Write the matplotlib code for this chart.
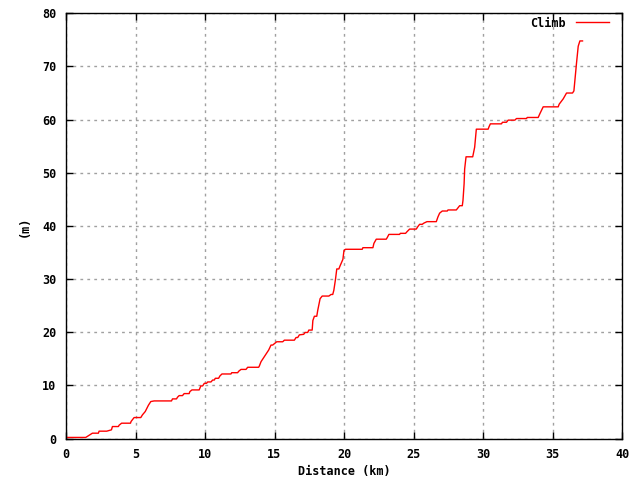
import matplotlib
matplotlib.use("Agg")
import matplotlib.pyplot as plt

distance_km = [0.0, 1.42, 1.9, 2.33, 2.38, 2.93, 3.27, 3.34, 3.77, 3.82, 4.0, 4.64, 4.68,
               4.9, 5.38, 5.5, 5.7, 5.93, 6.1, 6.34, 7.59, 7.66, 7.95, 8.02, 8.14, 8.38,
               8.5, 8.86, 8.91, 9.06, 9.58, 9.7, 9.83, 9.95, 10.11, 10.19, 10.43, 10.55,
               10.67, 10.74, 10.98, 11.07, 11.22, 11.87, 11.92, 12.35, 12.42, 12.59, 12.95,
               13.07, 13.86, 13.91, 14.03, 14.27, 14.58, 14.75, 14.87, 15.16, 15.59, 15.71,
               16.43, 16.55, 16.67, 16.79, 17.1, 17.2, 17.39, 17.47, 17.71, 17.76, 17.87,
               18.04, 18.11, 18.28, 18.43, 18.91, 19.07, 19.19, 19.27, 19.39, 19.48, 19.63,
               19.72, 19.92, 20.0, 20.11, 21.31, 21.36, 22.08, 22.15, 22.32, 23.04, 23.11,
               23.23, 24.0, 24.05, 24.43, 24.53, 24.72, 25.2, 25.32, 25.44, 25.63, 25.73,
               25.97, 26.64, 26.76, 26.88, 27.07, 27.43, 27.48, 28.08, 28.2, 28.32, 28.51,
               28.56, 28.64, 28.68, 28.78, 29.26, 29.4, 29.52, 30.37, 30.44, 30.53, 31.33,
               31.4, 31.69, 31.81, 32.29, 32.41, 33.13, 33.18, 33.97, 34.09, 34.33, 35.41,
               35.48, 35.77, 36.01, 36.44, 36.54, 36.64, 36.73, 36.85, 36.97, 37.16]
climb_m = [0.2, 0.2, 1.0, 1.0, 1.38, 1.38, 1.63, 2.25, 2.25, 2.5, 2.88, 2.88, 3.2,
           3.94, 3.94, 4.45, 5.07, 6.26, 6.95, 7.07, 7.07, 7.45, 7.45, 7.76, 8.07, 8.07,
           8.45, 8.45, 8.82, 9.14, 9.14, 9.89, 9.89, 10.38, 10.38, 10.64, 10.64, 11.0,
           11.0, 11.33, 11.33, 11.76, 12.14, 12.14, 12.38, 12.38, 12.64, 13.0, 13.0,
           13.4, 13.4, 13.64, 14.45, 15.4, 16.64, 17.58, 17.58, 18.2, 18.2, 18.5,
           18.5, 19.0, 19.0, 19.5, 19.6, 19.95, 19.95, 20.4, 20.4, 22.2, 23.0,
           23.0, 24.1, 26.3, 26.8, 26.8, 27.1, 27.1, 27.9, 30.0, 31.9, 31.9,
           32.5, 33.7, 35.4, 35.6, 35.6, 35.9, 35.9, 36.7, 37.5, 37.5, 37.8,
           38.4, 38.4, 38.6, 38.6, 38.9, 39.4, 39.4, 39.9, 40.3, 40.3, 40.5,
           40.8, 40.8, 41.7, 42.4, 42.8, 42.8, 43.0, 43.0, 43.4, 43.8, 43.8,
           44.8, 47.9, 50.7, 53.0, 53.0, 54.8, 58.2, 58.2, 58.7, 59.2, 59.2,
           59.5, 59.5, 59.9, 59.9, 60.2, 60.2, 60.4, 60.4, 61.1, 62.4, 62.4,
           62.9, 63.9, 65.0, 65.0, 65.4, 68.2, 70.7, 73.8, 74.8, 74.8]

x_ticks = [0, 5, 10, 15, 20, 25, 30, 35, 40]
y_ticks = [0, 10, 20, 30, 40, 50, 60, 70, 80]

font = "DejaVu Sans Mono"
fs = 8.5

fig = plt.figure(figsize=(6.4, 4.8), dpi=100)
ax = fig.add_axes([66 / 640, 1 - 438.5 / 480, (622 - 66) / 640, (438.5 - 13.3) / 480])

ax.plot(distance_km, climb_m, color="#ff0000", linewidth=1.0, label="Climb")

ax.set_xlim(0, 40)
ax.set_ylim(0, 80)
ax.set_xticks(x_ticks)
ax.set_yticks(y_ticks)
ax.set_xticklabels([str(t) for t in x_ticks], fontfamily=font, fontsize=fs, fontweight="bold")
ax.set_yticklabels([str(t) for t in y_ticks], fontfamily=font, fontsize=fs, fontweight="bold")
ax.tick_params(direction="in", length=5, width=1, top=True, right=True, pad=7, color="black")
ax.grid(True, color="#a0a0a0", linestyle=(0, (2, 3)), linewidth=1)
for s in ax.spines.values():
    s.set_linewidth(1.0)
    s.set_color("black")

ax.set_xlabel("Distance (km)", fontfamily=font, fontsize=fs, fontweight="bold", labelpad=3)
ax.set_ylabel("(m)", fontfamily=font, fontsize=fs, fontweight="bold", labelpad=8)

leg = ax.legend(loc="upper right", frameon=False, markerfirst=False, handlelength=2.8,
                prop={"family": font, "size": fs, "weight": "bold"},
                bbox_to_anchor=(1 - 5 / 556, 1 + 5 / 425),
                borderaxespad=0.3, handletextpad=0.8)

fig.savefig("out.png", dpi=100)
